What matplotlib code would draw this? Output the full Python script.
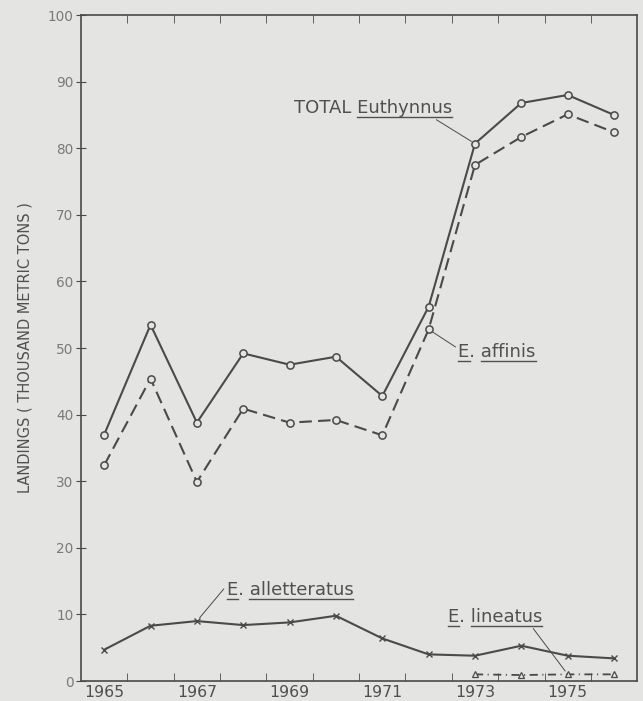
import matplotlib.pyplot as plt
from matplotlib.lines import Line2D
import numpy as np

# 年份
years = np.arange(1965, 1977)
# Euthynnus 合计（千公吨）
total = [37.0, 53.5, 38.8, 49.2, 47.5, 48.7, 42.8, 56.2, 80.7, 86.8, 88.0, 85.0]
# E. affinis
affinis = [32.4, 45.4, 29.9, 40.9, 38.8, 39.2, 36.9, 52.8, 77.5, 81.7, 85.1, 82.4]
# E. alletteratus
alletteratus = [4.7, 8.3, 9.0, 8.4, 8.8, 9.8, 6.4, 4.0, 3.8, 5.3, 3.8, 3.4]
# E. lineatus（1973 年起）
lineatus_years = [1973, 1974, 1975, 1976]
lineatus = [1.0, 0.9, 1.0, 1.0]

year_labels = ["1965", "1967", "1969", "1971", "1973", "1975"]

bg = "#e4e4e2"
ink = "#4a4a4a"
txt = "#505050"

fig = plt.figure(figsize=(6.43, 7.01), dpi=100, facecolor=bg)
ax = fig.add_axes([0.126, 0.0285, 0.865, 0.95])
ax.set_facecolor(bg)

# 各曲线
ax.plot(years, total, "-", color=ink, lw=1.5, marker="o", ms=5.2,
        mfc=bg, mec=ink, mew=1.1)
ax.plot(years, affinis, color=ink, lw=1.5, dashes=(6, 3), marker="o", ms=5.2,
        mfc=bg, mec=ink, mew=1.1)
ax.plot(years, alletteratus, "-", color=ink, lw=1.5, marker="x", ms=5,
        mec=ink, mew=1.0)
ax.plot(lineatus_years, lineatus, color=ink, lw=1.3, dashes=(4.5, 2.5, 0.6, 2.5),
        marker="^", ms=4.5, mfc=bg, mec=ink, mew=0.9)

# 坐标轴
ax.set_xlim(1964.5, 1976.5)
ax.set_ylim(0, 100)
for s in ax.spines.values():
    s.set_color(ink)
    s.set_linewidth(1.2)

ax.set_xticks(years[::2])
ax.set_xticklabels(year_labels, fontsize=11.3, color=txt)
ax.set_xticks(np.arange(1965.5, 1976.5, 1), minor=True)
ax.tick_params(axis="x", which="major", length=0, pad=3)
ax.tick_params(axis="x", which="minor", direction="in", length=6,
               color=ink, top=True, bottom=True)

ax.set_yticks(np.arange(0, 101, 10))
ax.set_yticklabels([str(v) for v in range(0, 101, 10)], fontsize=9.8, color="#7a7a7a")
ax.tick_params(axis="y", direction="inout", length=7, color=ink, right=False, pad=2)
ax.set_yticks(np.arange(10, 100, 10), minor=True)
ax.tick_params(axis="y", which="minor", direction="in", length=7, color=ink,
               left=False, right=True)
ax.set_ylabel("LANDINGS ( THOUSAND METRIC TONS )", fontsize=10.5, color=txt,
              labelpad=11)

# 标注（文字, 位置, 指向点, 引线起点, 下划线区段）
lead = dict(arrowstyle="-", color=ink, lw=0.7, shrinkA=0, shrinkB=3)
labels = [
    ("TOTAL Euthynnus", (1969.1, 85.3), (years[8], total[8]), (0.87, 0), [(6, 15)]),
    ("E. affinis", (1972.64, 48.6), (years[7], affinis[7]), (0, 0.7), [(0, 1), (3, 10)]),
    ("E. alletteratus", (1967.64, 12.9), (years[2], alletteratus[2]), (0, 0.75), [(0, 1), (3, 15)]),
    ("E. lineatus", (1972.42, 8.9), (lineatus_years[2], lineatus[2]), (0.88, 0), [(0, 1), (3, 11)]),
]
texts = []
for s, pos, pt, rp, ul in labels:
    t = ax.annotate(s, xy=pt, xytext=pos, fontsize=13, color=txt, va="baseline",
                    arrowprops=dict(lead, relpos=rp))
    texts.append((t, s, pos, ul))

# 下划线
fig.canvas.draw()
r = fig.canvas.get_renderer()
for t, s, pos, ul in texts:
    px, py = ax.transData.transform(pos)
    prop = t.get_fontproperties()
    for i, j in ul:
        w0 = r.get_text_width_height_descent(s[:i], prop, ismath=False)[0] if i else 0
        w1 = r.get_text_width_height_descent(s[:j], prop, ismath=False)[0]
        fig.add_artist(Line2D([px + w0, px + w1], [py - 4, py - 4], color=txt,
                              lw=1.0, transform=None))

fig.savefig("out.png", dpi=100, facecolor=bg)
